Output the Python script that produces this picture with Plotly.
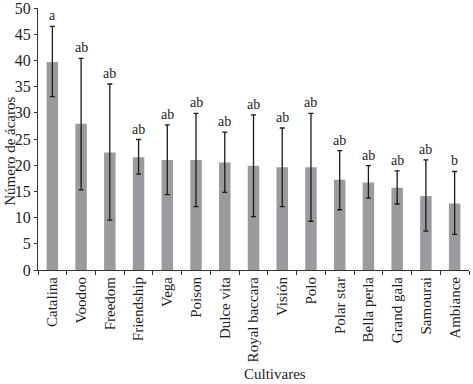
import plotly.graph_objects as go

cultivars = ["Catalina", "Voodoo", "Freedom", "Friendship", "Vega", "Poison", "Dulce vita",
             "Royal baccara", "Visión", "Polo", "Polar star", "Bella perla", "Grand gala",
             "Samourai", "Ambiance"]
means = [39.7, 27.9, 22.4, 21.5, 21.0, 21.0, 20.5, 19.9, 19.6, 19.6, 17.2, 16.7, 15.7, 14.1, 12.7]
upper = [46.5, 40.4, 35.5, 24.9, 27.7, 29.9, 26.3, 29.6, 27.1, 29.9, 22.8, 19.9, 18.9, 21.0, 18.8]
lower = [33.1, 15.3, 9.5, 18.3, 14.4, 12.1, 14.8, 10.2, 12.1, 9.3, 11.5, 13.7, 12.6, 7.4, 6.8]
letters = ["a", "ab", "ab", "ab", "ab", "ab", "ab", "ab", "ab", "ab", "ab", "ab", "ab", "ab", "b"]

err_plus = [u - m for u, m in zip(upper, means)]
err_minus = [m - l for m, l in zip(means, lower)]

FONT = "Liberation Serif"
TXT = "#1e1e28"

fig = go.Figure()
fig.add_trace(go.Bar(
    x=cultivars, y=means,
    marker=dict(color="#9a9b9f", line=dict(width=0)),
    width=0.4,
    error_y=dict(type="data", symmetric=False, array=err_plus, arrayminus=err_minus,
                 color="#1a1a1a", thickness=1.3, width=2.5),
))

for c, u, t in zip(cultivars, upper, letters):
    fig.add_annotation(x=c, y=u, text=t, showarrow=False, yanchor="bottom", yshift=1,
                       font=dict(family=FONT, size=14, color=TXT))

fig.add_annotation(xref="paper", yref="paper", x=0.55, y=-0.397, text="Cultivares",
                   showarrow=False, yanchor="middle", font=dict(family=FONT, size=15, color=TXT))
fig.add_annotation(xref="paper", yref="paper", x=-0.065, y=0.455, text="Número de ácaros",
                   textangle=-90, showarrow=False, xanchor="center", yanchor="middle",
                   font=dict(family=FONT, size=15, color=TXT))

fig.update_layout(
    width=473, height=384,
    margin=dict(l=38, r=4, t=8, b=114, autoexpand=False),
    paper_bgcolor="white", plot_bgcolor="white",
    showlegend=False,
    font=dict(family=FONT, color=TXT),
)
fig.update_xaxes(
    automargin=False,
    tickangle=-90, tickfont=dict(family=FONT, size=15, color=TXT),
    showline=True, linecolor="#333", linewidth=1,
    ticks="outside", tickson="boundaries", ticklen=4, tickcolor="#333",
    showgrid=False, range=[-0.5, 14.5],
)
fig.update_yaxes(
    automargin=False, ticklabeloverflow="allow",
    range=[0, 50], dtick=5, tickfont=dict(family=FONT, size=16, color=TXT),
    showline=True, linecolor="#333", linewidth=1,
    ticks="outside", ticklen=3, tickcolor="#333",
    showgrid=False, zeroline=False,
)

fig.write_html("out.html", config={"displayModeBar": False},
               post_script="document.body.style.margin='0';document.body.style.overflow='hidden';")
